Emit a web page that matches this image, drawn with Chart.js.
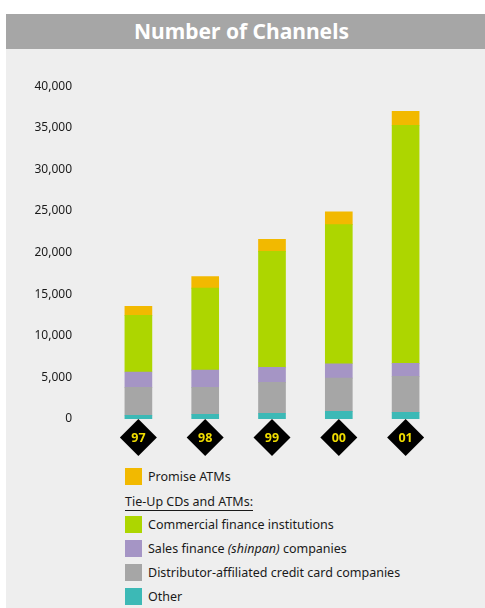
<!DOCTYPE html>
<html>
<head>
<meta charset="utf-8">
<script src="https://cdn.jsdelivr.net/npm/chart.js@4"></script>
<style>
  html, body { margin: 0; padding: 0; background: #ffffff; }
  body { width: 485px; height: 608px; position: relative; overflow: hidden; font-family: "Noto Sans", "Open Sans", sans-serif; }
  #header { position: absolute; left: 6px; top: 14px; width: 479px; height: 35px; background: #a6a6a6; color: #ffffff;
            font-weight: bold; font-size: 21px; line-height: 35px; text-align: center; text-indent: -8px; }
  #panel { position: absolute; left: 6px; top: 49px; width: 479px; height: 559px; background: #eeeeee; }
  #c { position: absolute; left: 6px; top: 46px; }
  .row { position: absolute; left: 125px; height: 17px; font-size: 12.5px; color: #1a1a1a; line-height: 17px; white-space: nowrap; }
  .sw { position: absolute; left: 0; top: 0; width: 17px; height: 17px; }
  .tx { position: absolute; left: 23px; top: 0; }
  .sub { position: absolute; left: 125px; font-size: 12.5px; color: #1a1a1a; border-bottom: 1px solid #1a1a1a; line-height: 16px; white-space: nowrap; }
</style>
</head>
<body>
<div id="header">Number of Channels</div>
<div id="panel"></div>
<canvas id="c" width="479" height="414"></canvas>
<div id="legend"></div>
<script>
const years = ["97", "98", "99", "00", "01"];
const yTicks = [0, 5000, 10000, 15000, 20000, 25000, 30000, 35000, 40000];

const seriesNames = ["Other", "Distributor-affiliated credit card companies", "Sales finance <i>(shinpan)</i> companies", "Commercial finance institutions", "Promise ATMs"];
const seriesColors = ["#3cb9b6", "#a6a6a6", "#a595c5", "#add600", "#f2b900"];

const other        = [450, 560, 690, 920, 800];
const distributor  = [3360, 3240, 3720, 4000, 4320];
const salesFinance = [1840, 2080, 1800, 1720, 1560];
const commercial   = [6810, 9850, 13930, 16730, 28630];
const promise      = [1080, 1400, 1440, 1530, 1680];

const seriesValues = [other, distributor, salesFinance, commercial, promise];

const diamondPlugin = {
  id: 'diamonds',
  afterDraw(chart) {
    const ctx = chart.ctx;
    const xs = chart.scales.x;
    const yBase = chart.scales.y.getPixelForValue(0);
    ctx.save();
    chart.data.labels.forEach((lab, i) => {
      const cx = xs.getPixelForValue(i);
      const cy = yBase + 18.5;
      const r = 18.5;
      ctx.beginPath();
      ctx.moveTo(cx, cy - r);
      ctx.lineTo(cx + r, cy);
      ctx.lineTo(cx, cy + r);
      ctx.lineTo(cx - r, cy);
      ctx.closePath();
      ctx.fillStyle = '#000000';
      ctx.fill();
      ctx.fillStyle = '#f0dc00';
      ctx.font = 'bold 12.5px "Noto Sans", sans-serif';
      ctx.textAlign = 'center';
      ctx.textBaseline = 'middle';
      ctx.fillText(lab, cx, cy + 0.5);
    });
    ctx.restore();
  }
};

new Chart(document.getElementById('c'), {
  type: 'bar',
  data: {
    labels: years,
    datasets: seriesValues.map((vals, i) => ({
      label: seriesNames[i].replace(/<[^>]+>/g, ''),
      data: vals,
      backgroundColor: seriesColors[i],
      borderWidth: 0,
      barThickness: 27
    }))
  },
  options: {
    responsive: false,
    animation: false,
    devicePixelRatio: 1,
    layout: { padding: { top: 40, bottom: 41, left: 0, right: 46 } },
    plugins: { legend: { display: false }, tooltip: { enabled: false }, title: { display: false } },
    scales: {
      x: {
        stacked: true,
        offset: true,
        display: true,
        grid: { display: false, drawTicks: false },
        border: { display: false },
        ticks: { display: false }
      },
      y: {
        stacked: true,
        min: 0,
        max: 40000,
        afterFit(scale) { scale.width = 99; },
        afterBuildTicks(scale) { scale.ticks = yTicks.map(v => ({ value: v })); },
        grid: { display: false, drawTicks: false },
        border: { display: false },
        ticks: {
          padding: 33,
          color: '#1a1a1a',
          font: { family: '"Noto Sans", sans-serif', size: 12 },
          callback: v => v.toLocaleString('en-US')
        }
      }
    }
  },
  plugins: [diamondPlugin]
});

// Legend
const legend = document.getElementById('legend');
function addRow(idx, top) {
  const row = document.createElement('div');
  row.className = 'row';
  row.style.top = top + 'px';
  row.innerHTML = '<div class="sw" style="background:' + seriesColors[idx] + '"></div><div class="tx">' + seriesNames[idx] + '</div>';
  legend.appendChild(row);
}
addRow(4, 468);
const sub = document.createElement('div');
sub.className = 'sub';
sub.style.top = '494px';
sub.textContent = 'Tie-Up CDs and ATMs:';
legend.appendChild(sub);
addRow(3, 516);
addRow(2, 540);
addRow(1, 564);
addRow(0, 588);
</script>
</body>
</html>
